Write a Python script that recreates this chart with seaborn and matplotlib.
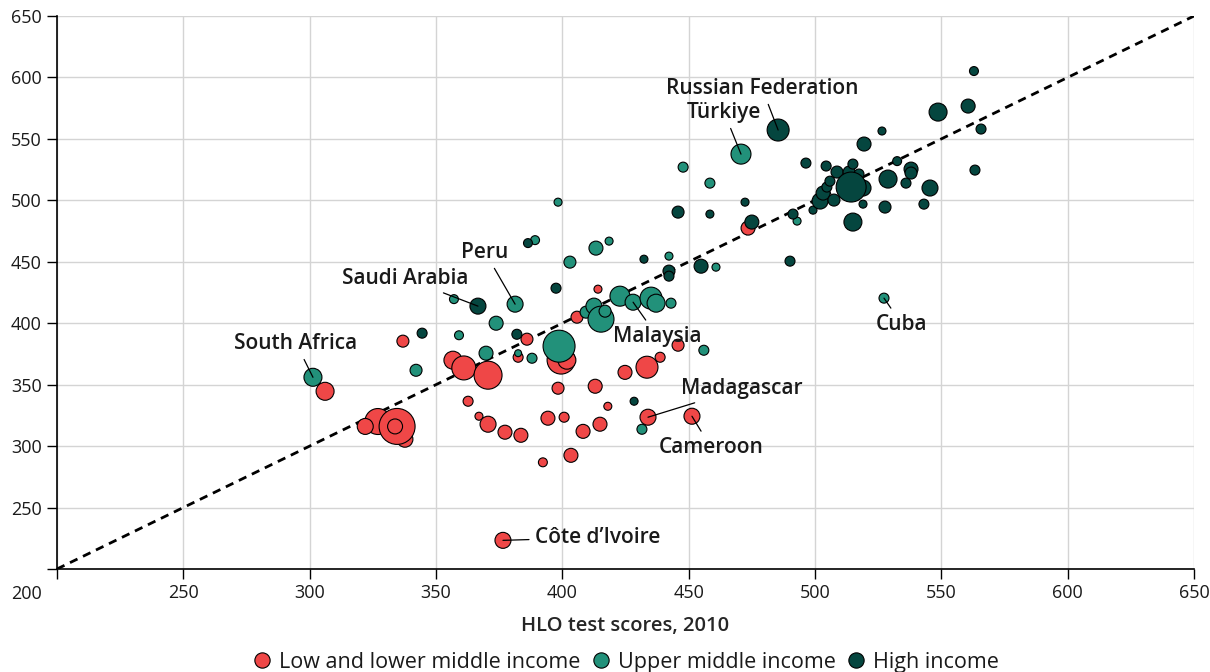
import numpy as np
import pandas as pd
import matplotlib
matplotlib.use("Agg")
import matplotlib.pyplot as plt
import matplotlib.transforms as mtransforms
from matplotlib.lines import Line2D
import seaborn as sns

# Puntuaciones HLO (eje x: 2010, eje y: periodo posterior) y tamaño de burbuja
low_x = [337.7, 306.1, 327.0, 334.6, 333.8, 322.0, 336.9, 356.7, 361.0, 370.6,
         362.7, 367.0, 370.6, 377.3, 383.6, 392.3, 382.5, 386.0, 399.5, 401.8,
         398.3, 413.0, 418.0, 433.9, 451.3, 424.8, 433.5, 438.7, 445.8, 394.3,
         400.7, 408.2, 414.9, 403.4, 405.8, 414.1, 434.3, 473.5, 376.5]
low_y = [305.6, 344.6, 320.0, 316.0, 316.0, 316.0, 385.4, 369.9, 363.6, 357.7,
         336.5, 324.3, 317.8, 311.3, 308.8, 286.8, 372.3, 387.0, 370.0, 369.9,
         347.1, 348.7, 332.4, 323.5, 324.3, 360.0, 364.2, 372.3, 382.1, 322.7,
         323.5, 312.0, 317.8, 292.5, 404.9, 427.7, 419.6, 477.4, 223.3]
low_w = [64, 81, 169, 324, 56, 64, 36, 81, 144, 196,
         25, 16, 64, 49, 49, 20, 25, 36, 196, 81,
         36, 49, 16, 64, 64, 49, 121, 25, 36, 49,
         25, 49, 49, 49, 36, 16, 25, 49, 64]

upper_x = [301.3, 342.1, 357.1, 359.1, 369.8, 373.8, 381.3, 382.5, 388.0, 398.7,
           403.0, 413.3, 418.5, 389.2, 398.3, 409.4, 412.5, 415.3, 416.9, 422.8,
           428.0, 435.1, 437.1, 443.0, 431.5, 456.0, 442.2, 460.8, 447.8, 458.4,
           470.7, 492.9, 527.3]
upper_y = [356.0, 361.7, 419.6, 390.2, 375.6, 400.0, 415.5, 375.6, 371.5, 381.3,
           449.7, 461.1, 466.8, 467.6, 498.5, 409.0, 413.9, 403.3, 409.8, 422.0,
           417.1, 420.4, 416.3, 416.3, 313.7, 378.0, 454.6, 445.6, 527.0, 514.0,
           537.6, 483.1, 420.4]
upper_w = [81, 36, 20, 20, 49, 49, 64, 12, 25, 256,
           36, 49, 16, 20, 16, 36, 64, 169, 36, 100,
           64, 121, 81, 25, 25, 25, 16, 16, 25, 25,
           100, 16, 25]

high_x = [366.6, 344.5, 382.0, 386.4, 397.5, 428.4, 432.3, 442.2, 442.2, 454.9,
          445.8, 458.4, 472.3, 475.0, 485.4, 490.1, 491.3, 496.4, 499.2, 502.0,
          503.2, 504.4, 504.7, 505.9, 507.5, 508.7, 513.5, 515.0, 517.4, 519.0,
          514.3, 519.0, 515.0, 519.4, 526.5, 527.7, 528.9, 532.5, 536.0, 538.0,
          538.0, 543.1, 545.5, 548.7, 560.6, 562.9, 563.3, 565.7]
high_y = [413.9, 391.9, 391.0, 465.2, 428.5, 336.5, 452.1, 442.4, 438.3, 446.4,
          490.4, 488.8, 498.5, 482.3, 557.2, 450.5, 488.8, 530.3, 492.0, 499.4,
          505.9, 527.9, 510.8, 515.6, 500.2, 523.0, 523.0, 529.5, 521.4, 510.0,
          510.8, 496.9, 482.3, 545.8, 556.4, 494.5, 517.3, 531.9, 514.0, 525.4,
          522.2, 496.9, 510.0, 571.8, 576.7, 605.2, 524.6, 558.0]
high_w = [64, 25, 25, 20, 25, 16, 16, 36, 25, 49,
          36, 16, 16, 49, 121, 25, 25, 25, 16, 64,
          49, 25, 25, 25, 36, 36, 36, 25, 25, 64,
          225, 16, 81, 49, 16, 36, 81, 20, 25, 49,
          36, 25, 64, 81, 49, 20, 25, 25]

groups = ["Low and lower middle income", "Upper middle income", "High income"]
colors = ["#ef4747", "#22917a", "#05463f"]

# Etiquetas: (texto, punto x, punto y, texto x, texto y, alineación)
labels = [
    ("Russian Federation", 485.4, 557.2, 479.0, 591.4, "center"),
    ("Türkiye", 470.7, 537.6, 464.0, 571.8, "center"),
    ("Peru", 381.3, 415.5, 369.4, 457.8, "center"),
    ("Saudi Arabia", 366.6, 413.9, 337.7, 436.7, "center"),
    ("South Africa", 301.3, 356.0, 294.6, 383.7, "center"),
    ("Malaysia", 428.0, 417.1, 437.5, 389.5, "center"),
    ("Madagascar", 433.9, 323.5, 471.1, 347.1, "center"),
    ("Cameroon", 451.3, 324.3, 458.8, 299.0, "center"),
    ("Côte d’Ivoire", 376.5, 223.3, 389.2, 225.6, "left"),
    ("Cuba", 527.3, 420.4, 534.4, 399.2, "center"),
]

ticks = list(range(200, 651, 50))

df = pd.concat([
    pd.DataFrame({"x": low_x, "y": low_y, "w": low_w, "group": groups[0]}),
    pd.DataFrame({"x": upper_x, "y": upper_y, "w": upper_w, "group": groups[1]}),
    pd.DataFrame({"x": high_x, "y": high_y, "w": high_w, "group": groups[2]}),
], ignore_index=True)

sns.set_theme(style="whitegrid")
plt.rcParams["font.family"] = ["Open Sans", "DejaVu Sans"]
plt.rcParams["text.color"] = "#1a1a1a"

fig, ax = plt.subplots(figsize=(12.1, 6.72), dpi=100)
fig.subplots_adjust(left=0.0471, right=0.9868, top=0.9762, bottom=0.1533)

ax.plot([200, 650], [200, 650], color="black", lw=2, linestyle=(0, (3, 2.2)), zorder=1)

k = 2.07
sns.scatterplot(
    data=df, x="x", y="y", hue="group", hue_order=groups, palette=colors,
    size="w", sizes=(k * 12, k * 324), size_norm=(12, 324),
    edgecolor="black", linewidth=0.8, alpha=1, legend=False, ax=ax, zorder=3,
)

for txt, px, py, tx, ty, ha in labels:
    ax.annotate(
        txt, xy=(px, py), xytext=(tx, ty), ha=ha, va="center",
        fontsize=15, fontweight=600, color="#1a1a1a", zorder=5,
        arrowprops=dict(arrowstyle="-", color="black", lw=0.9,
                        shrinkA=2, shrinkB=0),
    )

ax.set_xlim(200, 650)
ax.set_ylim(200, 650)
ax.set_xticks(ticks)
ax.set_yticks(ticks)
ax.set_xticklabels([""] + [str(t) for t in ticks[1:]])
ax.set_yticklabels([str(t) for t in ticks])
ax.tick_params(axis="both", which="both", length=7, width=1, color="black",
               labelsize=13, labelcolor="#1a1a1a", direction="out",
               left=True, bottom=True, pad=4)
# la etiqueta 200 del eje y va debajo del eje
lab200 = ax.get_yticklabels()[0]
lab200.set_transform(lab200.get_transform() +
                     mtransforms.ScaledTranslation(0, -0.23, fig.dpi_scale_trans))

ax.grid(True, color="#d4d4d4", lw=1)
for side in ["top", "right"]:
    ax.spines[side].set_visible(False)
for side in ["left", "bottom"]:
    ax.spines[side].set_color("black")
    ax.spines[side].set_linewidth(1.2)

ax.set_xlabel("HLO test scores, 2010", fontsize=14.5, fontweight=600, labelpad=10)
ax.set_ylabel("")

handles = [Line2D([0], [0], marker="o", linestyle="", markersize=11,
                  markerfacecolor=c, markeredgecolor="black", markeredgewidth=0.8)
           for c in colors]
fig.legend(handles, groups, loc="lower center", bbox_to_anchor=(0.517, -0.03),
           ncol=3, frameon=False, fontsize=15.5, handlelength=0.9,
           handletextpad=0.35, columnspacing=0.5)

fig.savefig("out.png", dpi=100)
